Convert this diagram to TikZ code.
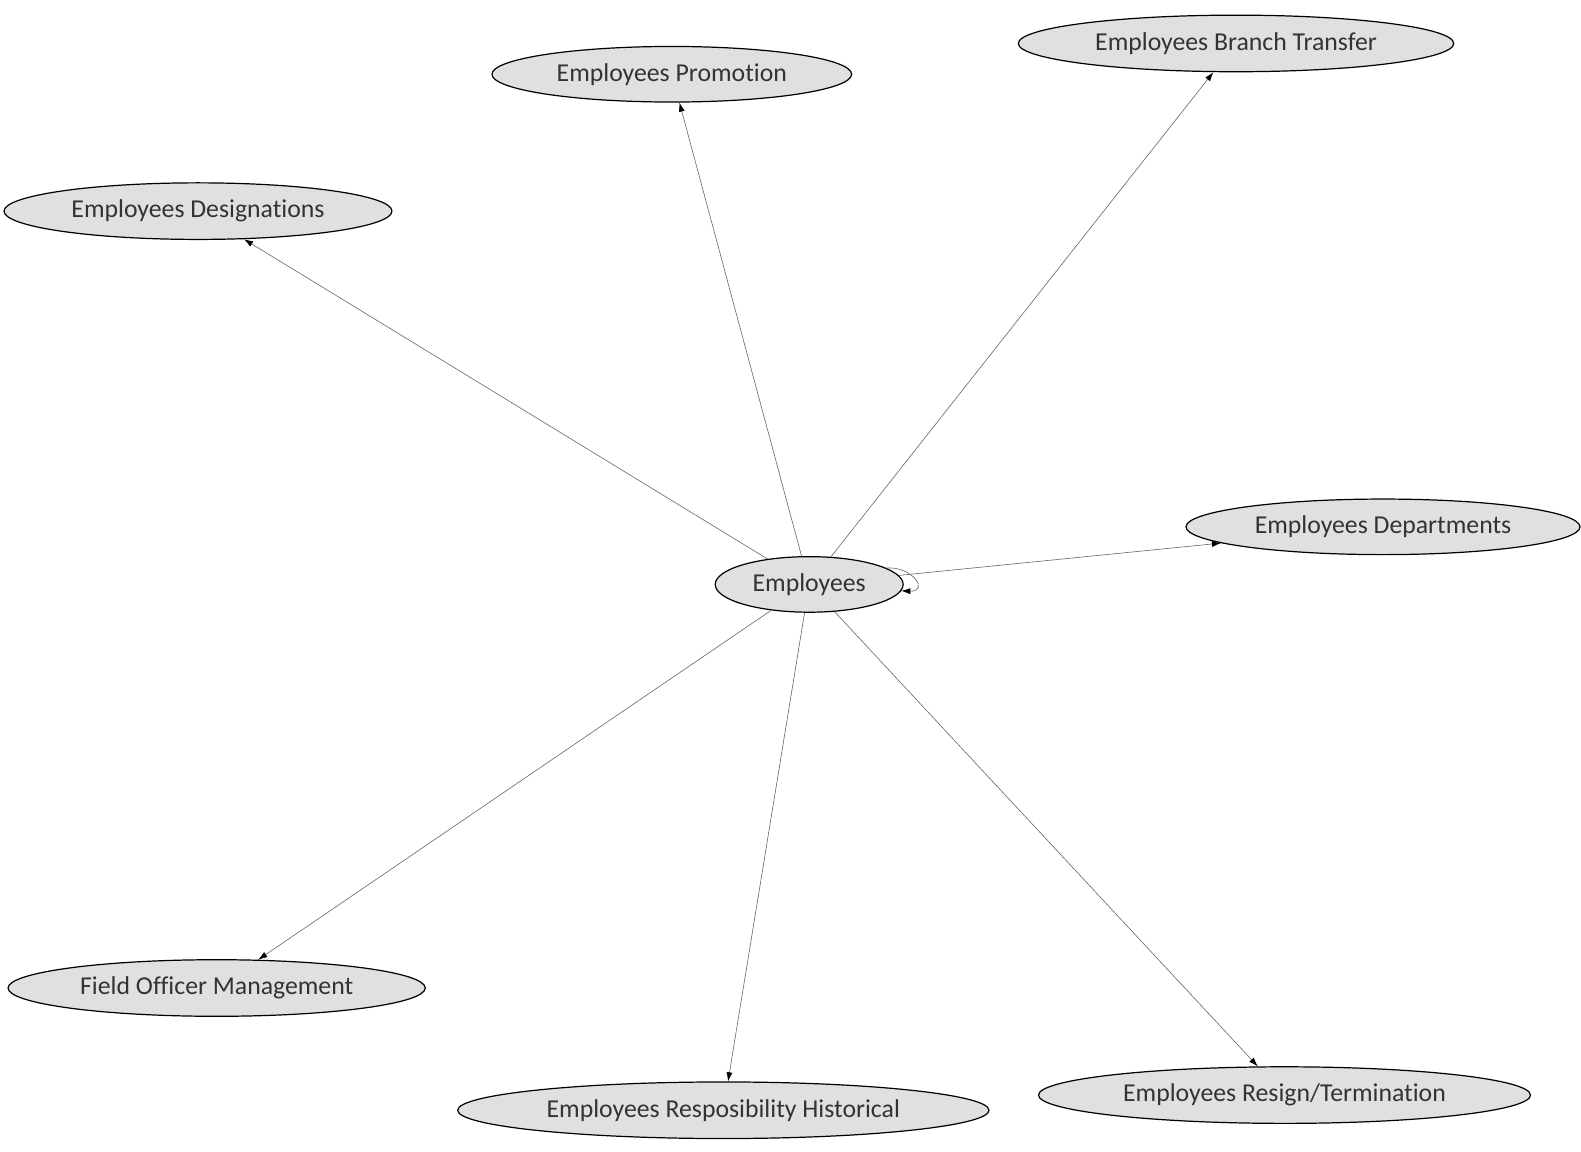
\documentclass[tikz,border=0pt]{standalone}
\usepackage{fontspec}
\setmainfont{Carlito}[Ligatures=NoCommon]
\usetikzlibrary{shapes.geometric,arrows.meta}
\definecolor{entfill}{HTML}{E0E0E0}
\definecolor{enttext}{HTML}{333333}
\tikzset{
  ent/.style={ellipse, draw=black, line width=1.2pt, fill=entfill, inner sep=0pt, font=\fontsize{25.5}{30}\selectfont, text=enttext},
  edge/.style={draw=black!60, line width=0.6pt, -{Latex[length=9pt,width=6pt,color=black]}},
}
\begin{document}
\begin{tikzpicture}[x=1pt,y=-1pt]
\useasboundingbox (0,0) rectangle (1565,1140);
\node[ent, minimum width=186, minimum height=55] (emp) at (801,578.5) {Employees};
\node[ent, minimum width=356, minimum height=55] (prom) at (665,73.5) {Employees Promotion};
\node[ent, minimum width=431, minimum height=56] (bt) at (1223.5,43) {Employees Branch Transfer};
\node[ent, minimum width=384, minimum height=56] (des) at (196,209) {Employees Designations};
\node[ent, minimum width=390, minimum height=55] (dep) at (1369,521.5) {Employees Departments};
\node[ent, minimum width=413, minimum height=56] (fom) at (214.5,978) {Field Officer Management};
\node[ent, minimum width=526, minimum height=56] (rh) at (716,1099) {Employees Resposibility Historical};
\node[ent, minimum width=487, minimum height=56] (rt) at (1271.5,1084) {Employees Resign/Termination};
\foreach \t in {prom,bt,des,dep,fom,rh,rt}{
  \draw[edge] (emp) -- (\t);
}
\draw[edge] (emp.12) .. controls +(26,-2) and +(28,1) .. (emp.-4);
\end{tikzpicture}
\end{document}
